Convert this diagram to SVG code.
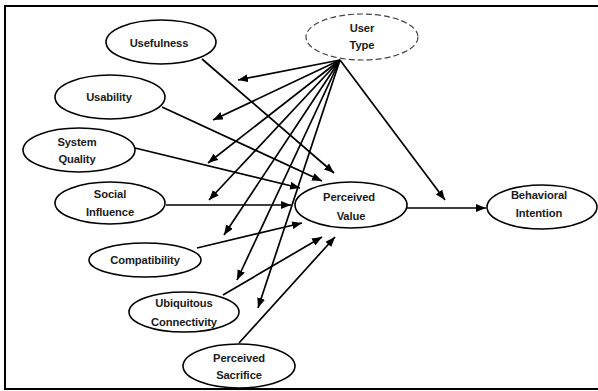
<svg xmlns="http://www.w3.org/2000/svg" width="598" height="391" viewBox="0 0 598 391">
<defs>
<marker id="ah" markerUnits="userSpaceOnUse" markerWidth="10" markerHeight="8" refX="10" refY="4" orient="auto">
<path d="M0,0 L10,4 L0,8 z" fill="#000"/>
</marker>
<style>
.n{fill:#fff;stroke:#000;stroke-width:1.6}
.d{fill:#fff;stroke:#444;stroke-width:1.2;stroke-dasharray:6 3}
.t{font-family:"Liberation Sans",Arial,sans-serif;font-size:11.2px;font-weight:bold;text-anchor:middle;fill:#1a1a1a;letter-spacing:-0.1px}
.c{stroke:#000;stroke-width:1.7;fill:none;marker-end:url(#ah)}
</style>
</defs>
<rect x="5" y="6" width="600" height="383" fill="#fff" stroke="#000" stroke-width="2"/>
<g id="connectors">
<line class="c" x1="340" y1="60" x2="238" y2="80"/>
<line class="c" x1="340" y1="60" x2="213" y2="120"/>
<line class="c" x1="340" y1="60" x2="208" y2="163"/>
<line class="c" x1="340" y1="60" x2="209" y2="200"/>
<line class="c" x1="340" y1="60" x2="224" y2="235"/>
<line class="c" x1="340" y1="60" x2="237" y2="280"/>
<line class="c" x1="340" y1="60" x2="258" y2="308"/>
<line class="c" x1="340" y1="60" x2="445" y2="200"/>
<line class="c" x1="202" y1="59" x2="334" y2="173"/>
<line class="c" x1="162" y1="107" x2="322" y2="181"/>
<line class="c" x1="135" y1="148" x2="300" y2="188"/>
<line class="c" x1="166" y1="205" x2="291" y2="205"/>
<line class="c" x1="197" y1="248" x2="302" y2="223"/>
<line class="c" x1="223" y1="295" x2="322" y2="237"/>
<line class="c" x1="239" y1="343" x2="335" y2="237"/>
<line class="c" x1="407" y1="208" x2="486" y2="208"/>
</g>
<g id="usertype"><ellipse class="d" cx="362" cy="37" rx="56" ry="23"/><text class="t" x="362" y="32">User</text><text class="t" x="362" y="49">Type</text></g>
<g id="usefulness"><ellipse class="n" cx="161" cy="42" rx="55" ry="22"/><text class="t" x="159" y="47">Usefulness</text></g>
<g id="usability"><ellipse class="n" cx="110" cy="97" rx="55" ry="22"/><text class="t" x="109" y="101">Usability</text></g>
<g id="systemquality"><ellipse class="n" cx="79" cy="150" rx="56" ry="22"/><text class="t" x="77" y="146">System</text><text class="t" x="77" y="163">Quality</text></g>
<g id="socialinfluence"><ellipse class="n" cx="110" cy="203" rx="55" ry="21"/><text class="t" x="110" y="198">Social</text><text class="t" x="110" y="216">Influence</text></g>
<g id="compatibility"><ellipse class="n" cx="145" cy="260" rx="56" ry="17"/><text class="t" x="145" y="264">Compatibility</text></g>
<g id="ubiquitous"><ellipse class="n" cx="184" cy="312" rx="55" ry="20"/><text class="t" x="184" y="307">Ubiquitous</text><text class="t" x="184" y="326">Connectivity</text></g>
<g id="sacrifice"><ellipse class="n" cx="239" cy="366" rx="56" ry="22"/><text class="t" x="239" y="362">Perceived</text><text class="t" x="239" y="379">Sacrifice</text></g>
<g id="perceivedvalue"><ellipse class="n" cx="351" cy="205" rx="56" ry="23"/><text class="t" x="349" y="201">Perceived</text><text class="t" x="351" y="220">Value</text></g>
<g id="behavioral"><ellipse class="n" cx="542" cy="207" rx="55" ry="22"/><text class="t" x="539" y="199">Behavioral</text><text class="t" x="539" y="217">Intention</text></g>
</svg>
